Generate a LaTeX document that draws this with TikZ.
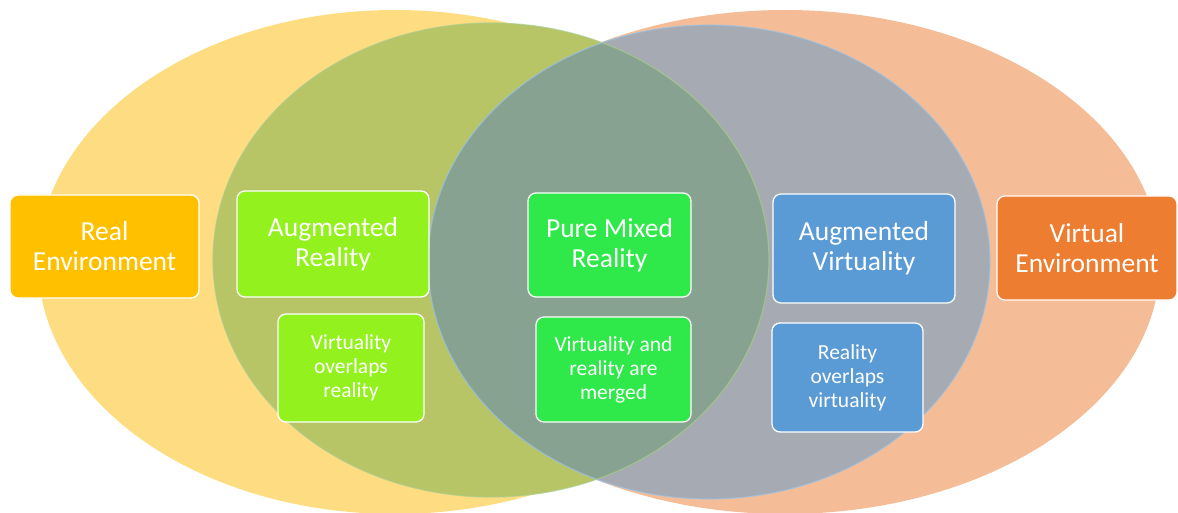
\documentclass[tikz,border=0pt]{standalone}
\usepackage{fontspec}
\setmainfont{Carlito}
\definecolor{realbg}{HTML}{FEDD82}
\definecolor{virtbg}{HTML}{F5BD97}
\definecolor{arbg}{HTML}{B8C567}
\definecolor{avbg}{HTML}{A5AAB3}
\definecolor{mixbg}{HTML}{87A290}
\definecolor{realbox}{HTML}{FFC000}
\definecolor{arbox}{HTML}{93F21E}
\definecolor{mixbox}{HTML}{2FE84A}
\definecolor{avbox}{HTML}{5B9BD5}
\definecolor{virtbox}{HTML}{ED7D31}
\definecolor{bluerim}{HTML}{9CC2E5}
\definecolor{greenrim}{HTML}{A9CC8A}
\tikzset{
  stagebox/.style={draw=white, line width=1.3pt, rounded corners=8pt,
    text=white, align=center, inner sep=0pt},
  bigtext/.style={font=\fontsize{27.5}{30}\selectfont},
  smalltext/.style={font=\fontsize{21.5}{24}\selectfont},
}
\begin{document}
\begin{tikzpicture}[x=1pt,y=-1pt]
\useasboundingbox (0,0) rectangle (1178,513);
% outer environments
\fill[realbg] (395,262) ellipse [x radius=357pt, y radius=252pt];
\fill[virtbg] (785,262) ellipse [x radius=375pt, y radius=252pt];
% augmented reality / augmented virtuality regions
\fill[arbg] (491,260) ellipse [x radius=278pt, y radius=237pt];
\fill[avbg] (709,262) ellipse [x radius=281pt, y radius=237pt];
\begin{scope}
  \clip (491,260) ellipse [x radius=278pt, y radius=237pt];
  \fill[mixbg] (709,262) ellipse [x radius=281pt, y radius=237pt];
\end{scope}
\draw[greenrim, line width=1.2pt, opacity=0.7] (491,260) ellipse [x radius=278pt, y radius=237pt];
\draw[bluerim, line width=1.2pt, opacity=0.7] (709,262) ellipse [x radius=281pt, y radius=237pt];
% stage boxes
\node[stagebox, bigtext, fill=realbox, minimum width=189pt, minimum height=103pt]
  (real) at (104.5,246.5) {Real\\Environment};
\node[stagebox, bigtext, fill=arbox, minimum width=192pt, minimum height=106pt]
  (ar) at (333,244) {Augmented\\Reality};
\node[stagebox, smalltext, fill=arbox, minimum width=146pt, minimum height=108pt]
  (ardesc) at (351,368) {Virtuality\\overlaps\\reality};
\node[stagebox, bigtext, fill=mixbox, minimum width=163pt, minimum height=104pt]
  (mix) at (609.5,245) {Pure Mixed\\Reality};
\node[stagebox, smalltext, fill=mixbox, minimum width=155pt, minimum height=105pt]
  (mixdesc) at (613.5,369.5) {Virtuality and\\reality are\\merged};
\node[stagebox, bigtext, fill=avbox, minimum width=182pt, minimum height=109pt]
  (av) at (864,248.5) {Augmented\\Virtuality};
\node[stagebox, smalltext, fill=avbox, minimum width=151pt, minimum height=109pt]
  (avdesc) at (847.5,377.5) {Reality\\overlaps\\virtuality};
\node[stagebox, bigtext, fill=virtbox, minimum width=180pt, minimum height=104pt]
  (virt) at (1087,248) {Virtual\\Environment};
\end{tikzpicture}
\end{document}
